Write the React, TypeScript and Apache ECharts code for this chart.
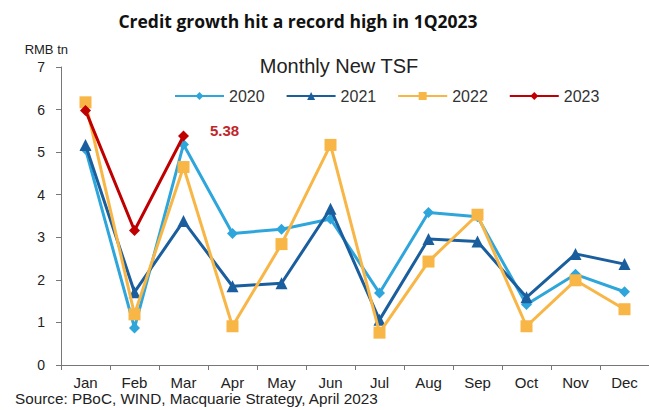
import React, { useEffect, useRef } from "react";
import * as echarts from "echarts";

const months = ["Jan", "Feb", "Mar", "Apr", "May", "Jun", "Jul", "Aug", "Sep", "Oct", "Nov", "Dec"];
const s2020 = [5.07, 0.87, 5.18, 3.09, 3.19, 3.43, 1.69, 3.58, 3.48, 1.42, 2.13, 1.72];
const s2021 = [5.17, 1.71, 3.38, 1.85, 1.92, 3.67, 1.06, 2.96, 2.9, 1.59, 2.61, 2.37];
const s2022 = [6.17, 1.19, 4.65, 0.91, 2.84, 5.17, 0.76, 2.43, 3.53, 0.91, 1.99, 1.31];
const s2023 = [5.98, 3.16, 5.38];
const yTicks = [0, 1, 2, 3, 4, 5, 6, 7];

export default function App() {
  const ref = useRef<HTMLDivElement>(null);
  useEffect(() => {
    const chart = echarts.init(ref.current!, null, { renderer: "svg" });
    const font = "'Liberation Sans', Arial, sans-serif";
    const mk = (name: string, data: number[], color: string, symbol: string, size: number, z: number) => ({
      name,
      type: "line",
      data,
      symbol,
      symbolSize: size,
      z,
      lineStyle: { color, width: 3 },
      itemStyle: { color },
    });
    const lastIdx = s2023.length - 1;
    chart.setOption({
      animation: false,
      textStyle: { fontFamily: font },
      title: [
        {
          text: "Credit growth hit a record high in 1Q2023",
          left: 293,
          top: 7,
          textAlign: "center",
          textStyle: { fontFamily: "'Open Sans', Lato, sans-serif", fontWeight: "bold", fontSize: 17.5, color: "#111" },
        },
        {
          text: "Monthly New TSF",
          left: 334,
          top: 51,
          textAlign: "center",
          textStyle: { fontFamily: font, fontWeight: "normal", fontSize: 20, color: "#222" },
        },
      ],
      legend: {
        top: 88,
        left: 174,
        padding: 0,
        itemWidth: 49,
        itemHeight: 10,
        itemGap: 21,
        textStyle: { fontFamily: font, fontSize: 16, color: "#333" },
        data: ["2020", "2021", "2022", "2023"],
      },
      grid: { left: 61, right: 0, top: 67, bottom: 45 },
      xAxis: {
        type: "category",
        data: months,
        boundaryGap: true,
        axisLine: { lineStyle: { color: "#777", width: 1 } },
        axisTick: { show: true, lineStyle: { color: "#777" }, length: 5 },
        axisLabel: { color: "#222", fontSize: 15, fontFamily: font, margin: 10 },
      },
      yAxis: {
        type: "value",
        min: yTicks[0],
        max: yTicks[yTicks.length - 1],
        interval: 1,
        name: "RMB tn",
        nameLocation: "end",
        nameGap: 11,
        nameTextStyle: { color: "#222", fontSize: 13, fontFamily: font, align: "right", padding: [0, -7, 0, 0] },
        splitLine: { show: false },
        axisLine: { show: true, lineStyle: { color: "#777", width: 1 } },
        axisTick: { show: true, lineStyle: { color: "#777" }, length: 5 },
        axisLabel: { color: "#222", fontSize: 14, fontFamily: font, margin: 16 },
      },
      series: [
        mk("2020", s2020, "#2EA6DC", "diamond", 11, 2),
        mk("2021", s2021, "#1B5E9E", "triangle", 12, 3),
        mk("2022", s2022, "#F8B646", "rect", 12, 4),
        {
          ...mk("2023", s2023, "#C00000", "diamond", 11, 5),
          markPoint: {
            symbol: "circle",
            symbolSize: 1,
            itemStyle: { color: "transparent" },
            label: {
              show: true,
              formatter: String(s2023[lastIdx]),
              color: "#C0262A",
              fontWeight: "bold",
              fontSize: 15,
              fontFamily: font,
              position: "right",
              offset: [21, -5],
            },
            data: [{ coord: [lastIdx, s2023[lastIdx]] }],
          },
        },
      ],
      graphic: [
        {
          type: "text",
          left: 15,
          top: 391,
          style: {
            text: "Source: PBoC, WIND, Macquarie Strategy, April 2023",
            fontFamily: font,
            fontSize: 15.3,
            fill: "#222",
          },
        },
      ],
    });
    return () => chart.dispose();
  }, []);
  return <div ref={ref} style={{ width: 649, height: 410, position: "absolute", left: 0, top: 0 }} />;
}
